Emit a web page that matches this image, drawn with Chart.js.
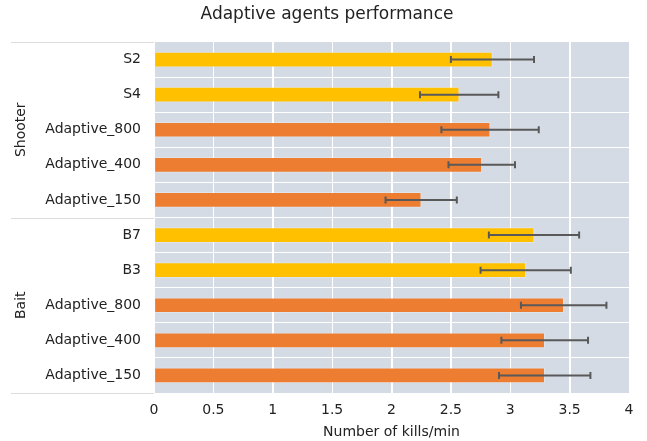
<!DOCTYPE html>
<html>
<head>
<meta charset="utf-8">
<script src="https://cdn.jsdelivr.net/npm/chart.js@4"></script>
<style>
  html, body { margin: 0; padding: 0; background: #fff; }
  #wrap { width: 647px; height: 441px; }
</style>
</head>
<body>
<div id="wrap"><canvas id="chart"></canvas></div>
<script>
const labels = ["S2", "S4", "Adaptive_800", "Adaptive_400", "Adaptive_150",
                "B7", "B3", "Adaptive_800", "Adaptive_400", "Adaptive_150"];
const killsPerMin = [2.85, 2.57, 2.83, 2.76, 2.25, 3.20, 3.13, 3.45, 3.29, 3.29];
const errors = [0.35, 0.33, 0.41, 0.28, 0.30, 0.38, 0.38, 0.36, 0.365, 0.385];
const groups = ["Shooter", "Bait"];
const groupSize = [5, 5];
const xMin = 0, xMax = 4, xStep = 0.5;
const titleText = "Adaptive agents performance";

const YELLOW = "#ffc000";
const ORANGE = "#ed7d31";
const barColors = labels.map((l) => (l.startsWith("Adaptive") ? ORANGE : YELLOW));

const FONT = "'DejaVu Sans', sans-serif";

// plot background, vertical grid and title
const plotBg = {
  id: "plotBg",
  beforeDraw(chart) {
    const { ctx, chartArea: a } = chart;
    const x = chart.scales.x;
    ctx.save();
    ctx.fillStyle = "#d5dbe5";
    ctx.fillRect(a.left, a.top, a.right - a.left, a.bottom - a.top);
    ctx.strokeStyle = "#ffffff";
    ctx.lineWidth = 1;
    x.ticks.forEach((t) => {
      const px = Math.round(x.getPixelForValue(t.value)) + 0.5;
      ctx.beginPath();
      ctx.moveTo(px, a.top);
      ctx.lineTo(px, a.bottom);
      ctx.stroke();
    });
    ctx.fillStyle = "#222";
    ctx.font = "17px " + FONT;
    ctx.textAlign = "center";
    ctx.textBaseline = "middle";
    ctx.fillText(titleText, 327, 15);
    ctx.restore();
  },
};

// error bars
const errorBars = {
  id: "errorBars",
  afterDatasetsDraw(chart) {
    const { ctx } = chart;
    const x = chart.scales.x;
    const meta = chart.getDatasetMeta(0);
    ctx.save();
    ctx.strokeStyle = "#595959";
    ctx.lineWidth = 2;
    meta.data.forEach((bar, i) => {
      const y = bar.y;
      const lo = x.getPixelForValue(killsPerMin[i] - errors[i]);
      const hi = x.getPixelForValue(killsPerMin[i] + errors[i]);
      ctx.beginPath();
      ctx.moveTo(lo, y);
      ctx.lineTo(hi, y);
      ctx.moveTo(lo, y - 3.5);
      ctx.lineTo(lo, y + 3.5);
      ctx.moveTo(hi, y - 3.5);
      ctx.lineTo(hi, y + 3.5);
      ctx.stroke();
    });
    ctx.restore();
  },
};

// group labels + separators on the left
const groupLabels = {
  id: "groupLabels",
  afterDraw(chart) {
    const { ctx, chartArea: a } = chart;
    const rowH = (a.bottom - a.top) / labels.length;
    ctx.save();
    ctx.strokeStyle = "#dcdcdc";
    ctx.lineWidth = 1;
    let start = 0;
    const lineAt = (py) => {
      ctx.beginPath();
      ctx.moveTo(11, Math.round(py) + 0.5);
      ctx.lineTo(a.left, Math.round(py) + 0.5);
      ctx.stroke();
    };
    lineAt(a.top);
    ctx.fillStyle = "#222";
    ctx.font = "14px " + FONT;
    ctx.textAlign = "center";
    ctx.textBaseline = "middle";
    groups.forEach((g, gi) => {
      const top = a.top + start * rowH;
      const bottom = top + groupSize[gi] * rowH;
      lineAt(bottom);
      ctx.save();
      ctx.translate(21, (top + bottom) / 2);
      ctx.rotate(-Math.PI / 2);
      ctx.fillText(g, 0, 0);
      ctx.restore();
      start += groupSize[gi];
    });
    ctx.restore();
  },
};

new Chart(document.getElementById("chart"), {
  type: "bar",
  data: {
    labels,
    datasets: [{
      data: killsPerMin,
      backgroundColor: barColors,
      borderColor: "rgba(255,255,255,0.25)",
      borderWidth: 1,
      borderSkipped: false,
      barThickness: 15,
    }],
  },
  options: {
    indexAxis: "y",
    responsive: true,
    maintainAspectRatio: false,
    animation: false,
    layout: { padding: { left: 0, right: 18, top: 42, bottom: 0 } },
    plugins: {
      legend: { display: false },
      tooltip: { enabled: false },
      title: { display: false },
    },
    scales: {
      x: {
        min: xMin,
        max: xMax,
        afterFit(scale) { scale.height = 48; },
        grid: { color: "#ffffff", lineWidth: 1, drawTicks: false },
        border: { display: false },
        ticks: {
          stepSize: xStep,
          color: "#222",
          font: { family: FONT, size: 14 },
          padding: 9,
          callback: (v) => String(+v.toFixed(1)),
        },
        title: {
          display: true,
          text: "Number of kills/min",
          color: "#222",
          font: { family: FONT, size: 14 },
          padding: { top: 1, bottom: 0 },
        },
      },
      y: {
        afterFit(scale) { scale.width = 154; },
        grid: { color: "#ffffff", lineWidth: 1, drawTicks: false, offset: true },
        border: { display: false },
        ticks: {
          color: "#222",
          font: { family: FONT, size: 14 },
          padding: 13,
        },
      },
    },
  },
  plugins: [plotBg, errorBars, groupLabels],
});
</script>
</body>
</html>
